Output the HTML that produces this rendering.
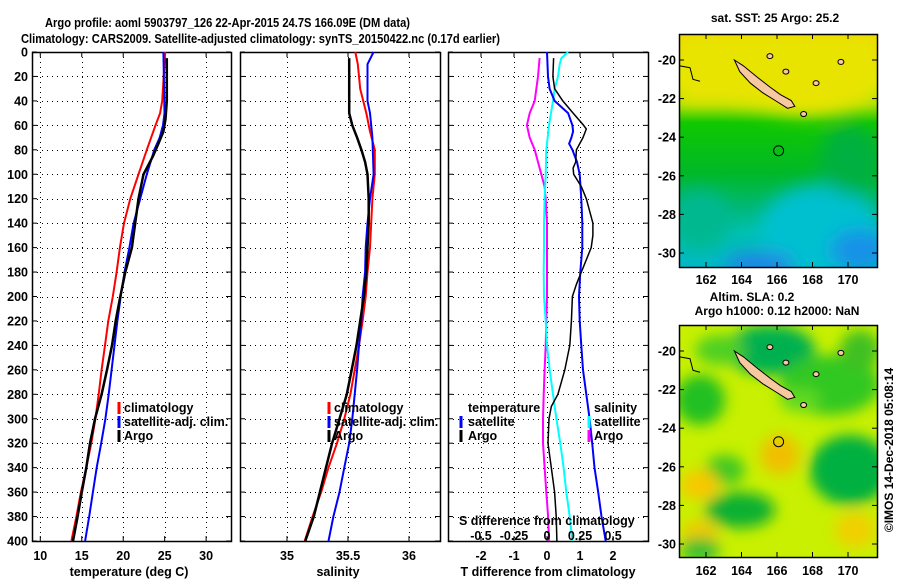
<!DOCTYPE html>
<html><head><meta charset="utf-8">
<style>
html,body{margin:0;padding:0;background:#fff;}
svg text{font-family:"Liberation Sans",sans-serif;font-weight:bold;fill:#000;}
</style></head>
<body>
<svg id="chart" width="900" height="580" viewBox="0 0 900 580" xmlns="http://www.w3.org/2000/svg">
<defs>
<filter id="blur1" x="-20%" y="-20%" width="140%" height="140%"><feGaussianBlur stdDeviation="9"/></filter>
<filter id="blur2" x="-20%" y="-20%" width="140%" height="140%"><feGaussianBlur stdDeviation="7"/></filter>
<clipPath id="clipM1"><rect x="679" y="34" width="198" height="233"/></clipPath>
<clipPath id="clipM2"><rect x="679" y="325" width="198" height="232"/></clipPath>
<linearGradient id="sstGrad" x1="0" y1="0" x2="0" y2="1">
<stop offset="0" stop-color="#f2d400"/><stop offset="0.2" stop-color="#e0ec00"/><stop offset="0.3" stop-color="#a8e000"/><stop offset="0.38" stop-color="#10c800"/><stop offset="0.6" stop-color="#00b828"/><stop offset="0.75" stop-color="#00b878"/><stop offset="0.85" stop-color="#00c0b0"/><stop offset="1" stop-color="#00b8c8"/>
</linearGradient>
</defs>
<text x="45" y="27" font-size="13" textLength="365" lengthAdjust="spacingAndGlyphs">Argo profile: aoml 5903797_126 22-Apr-2015 24.7S 166.09E (DM data)</text>
<text x="21" y="43" font-size="13" textLength="479" lengthAdjust="spacingAndGlyphs">Climatology: CARS2009. Satellite-adjusted climatology: synTS_20150422.nc (0.17d earlier)</text>
<g id="panels"></g>
<g id="maps"></g>
</svg>
<script>
// ---- data ----
const depths = [0,20,40,60,80,100,120,140,160,180,200,220,240,260,280,300,320,340,360,380,400];
const tempClimDepth = [0,40,50,60,80,100,120,140,160,180,200,220,240,260,280,300,320,340,360,380,400];
const tempClim = [25.06,24.7,24.45,23.9,22.85,21.85,20.85,20.1,19.6,19.2,18.75,18.2,17.8,17.4,17.05,16.65,16.15,15.55,14.9,14.35,13.75];
const tempSatDepth = [0,50,60,70,80,100,120,140,160,180,200,220,240,260,280,300,320,340,360,380,400];
const tempSat = [24.85,24.98,24.8,24.4,23.75,22.85,22.05,21.25,20.75,20.15,19.7,19.3,18.95,18.6,18.25,17.85,17.35,16.8,16.35,15.9,15.4];
const tempArgoDepth = [5,40,55,65,75,85,100,120,140,160,180,200,220,240,260,280,300,320,340,360,380,400];
const tempArgo = [25.26,25.26,25.1,24.85,24.25,23.6,22.45,21.85,21.45,21.05,20.25,19.65,19.1,18.65,18.05,17.4,16.6,16.0,15.55,15.0,14.5,13.95];
const salClimDepth = [0,10,30,50,65,80,100,120,140,160,180,200,220,240,260,280,300,320,340,360,380,400];
const salClim = [35.56,35.58,35.6,35.65,35.68,35.72,35.72,35.70,35.69,35.68,35.66,35.645,35.62,35.59,35.555,35.52,35.47,35.41,35.34,35.28,35.21,35.145];
const salSatDepth = [0,10,40,50,70,100,120,140,160,180,200,220,240,260,280,300,320,340,360,380,400];
const salSat = [35.71,35.66,35.66,35.68,35.70,35.71,35.68,35.66,35.645,35.64,35.62,35.61,35.59,35.575,35.555,35.535,35.51,35.47,35.43,35.38,35.34];
const salArgoDepth = [5,50,60,70,80,90,100,120,140,160,180,200,220,240,260,280,300,320,340,360,380,400];
const salArgo = [35.51,35.51,35.535,35.575,35.61,35.64,35.66,35.67,35.67,35.66,35.65,35.63,35.60,35.57,35.53,35.49,35.43,35.37,35.32,35.27,35.22,35.15];
const dTSatDepth = [0,20,30,40,50,60,65,70,75,80,90,100,120,140,160,180,200,220,240,260,280,300,320,340,360,380,400];
const dTSat = [0,0.03,0.08,0.23,0.64,0.77,0.79,0.74,0.67,0.77,0.91,0.99,1.04,1.07,1.07,1.01,0.97,0.99,1.04,1.09,1.19,1.29,1.37,1.44,1.55,1.65,1.78];
const dTArgoDepth = [5,20,30,40,50,60,63,70,80,90,95,100,110,120,130,140,150,160,170,180,190,200,220,240,260,280,290,300,320,340,360,380,400];
const dTArgo = [0.2,0.18,0.23,0.48,0.79,1.11,1.19,1.09,0.89,0.87,0.79,0.81,1.04,1.19,1.29,1.39,1.39,1.34,1.19,1.04,0.89,0.77,0.74,0.69,0.54,0.33,0.13,0.06,0.03,0.13,0.23,0.28,0.3];
const dSSatDepth = [0,5,10,20,30,40,60,80,100,120,140,160,180,200,220,240,260,280,300,320,340,360,380,400];
const dSSat = [0.159,0.109,0.096,0.083,0.058,0.045,0.015,-0.005,-0.01,-0.018,-0.023,-0.023,-0.025,-0.023,-0.01,0,0.02,0.045,0.071,0.101,0.126,0.146,0.172,0.192];
const dSArgoDepth = [5,20,40,50,60,70,80,90,100,110,120,140,160,180,200,220,240,260,280,300,320,340,360,380,400];
const dSArgo = [-0.056,-0.068,-0.093,-0.131,-0.152,-0.131,-0.093,-0.068,-0.043,-0.018,-0.01,0,0,0,0,-0.005,-0.01,-0.018,-0.025,-0.03,-0.03,-0.018,-0.005,0.008,0.015];
const tempTicks = [10,15,20,25,30];
const salTicks = [35,35.5,36];
const salTickLabels = ["35","35.5","36"];
const dTTicks = [-2,-1,0,1,2];
const dSTicks = [-0.5,-0.25,0,0.25,0.5];
const dSTickLabels = ["-0.5","-0.25","0","0.25","0.5"];
const lonTicks = [162,164,166,168,170];
const latTicks = [-20,-22,-24,-26,-28,-30];

// ---- helpers ----
const NS = "http://www.w3.org/2000/svg";
function mk(tag, attrs, parent, txt){
  const e = document.createElementNS(NS, tag);
  for (const k in attrs) e.setAttribute(k, attrs[k]);
  if (txt !== undefined) e.textContent = txt;
  parent.appendChild(e);
  return e;
}
const TOP = 52, BOT = 541;
const yD = d => TOP + d * (BOT - TOP) / 400;
function lin(d0, d1, r0, r1){ return v => r0 + (v - d0) * (r1 - r0) / (d1 - d0); }

const panelsG = document.getElementById('panels');
const panels = [
  {name:'temperature-panel', x0:32, x1:231, sx: lin(9,33,32,231), ticks:tempTicks, labels:tempTicks.map(String), xlabel:'temperature (deg C)', xlx:129},
  {name:'salinity-panel', x0:240, x1:440, sx: lin(34.6148,36.2541,240,440), ticks:salTicks, labels:salTickLabels, xlabel:'salinity', xlx:338},
  {name:'difference-panel', x0:448, x1:648, sx: lin(-3,3.0606,448,648), ticks:dTTicks, labels:dTTicks.map(String), xlabel:'T difference from climatology', xlx:548}
];
panels.forEach((p, pi) => {
  const g = mk('g', {}, panelsG);
  
  
  const grid = mk('g', {stroke:'#000','stroke-width':1,'stroke-dasharray':'1,4'}, g);
  
  
  p.ticks.forEach(t => { const x = Math.round(p.sx(t)) + 0.5; mk('line', {x1:x, x2:x, y1:TOP, y2:BOT}, grid); });
  depths.forEach(d => { if (d > 0 && d < 400) { const y = Math.round(yD(d)) + 0.5; mk('line', {x1:p.x0, x2:p.x1, y1:y, y2:y}, grid); } });
  const frame = mk('rect', {x:p.x0+0.5, y:TOP+0.5, width:p.x1-p.x0, height:BOT-TOP, fill:'none', stroke:'#000', 'stroke-width':1.5}, g);
  
  
  p.ticks.forEach(t => { const x = p.sx(t); mk('line', {x1:x, x2:x, y1:BOT, y2:BOT-5, stroke:'#000'}, g); mk('line', {x1:x, x2:x, y1:TOP, y2:TOP+5, stroke:'#000'}, g); });
  depths.forEach(d => { const y = yD(d); mk('line', {x1:p.x0, x2:p.x0+5, y1:y, y2:y, stroke:'#000'}, g); mk('line', {x1:p.x1, x2:p.x1-5, y1:y, y2:y, stroke:'#000'}, g); });
  p.ticks.forEach((t, i) => {
    const tl = mk('text', {x:p.sx(t), y:560, 'font-size':12.5, 'text-anchor':'middle'}, g, p.labels[i]);
    
    
  });
  const xl = mk('text', {x:p.xlx, y:576, 'font-size':12.5, 'text-anchor':'middle'}, g, p.xlabel);
  
  
  if (pi === 0) {
    depths.forEach(d => {
      const tl = mk('text', {x:28, y:yD(d)+4.5, 'font-size':12.5, 'text-anchor':'end'}, g, String(d));
      
      
    });
  }
});

function series(p, xs, ds, color, w, sx, name){
  const pts = xs.map((v, i) => sx(v).toFixed(1) + ',' + yD(ds[i]).toFixed(1)).join(' ');
  const l = mk('polyline', {points:pts, fill:'none', stroke:color, 'stroke-width':w, 'stroke-linejoin':'round'}, panelsG);
  
  
}
const sxT = panels[0].sx, sxS = panels[1].sx, sxD = panels[2].sx;
const sxDS = lin(-0.75, 0.765, 448, 648);
series(0, tempClim, tempClimDepth, '#ff0000', 2, sxT, 'temp-climatology-line');
series(0, tempSat, tempSatDepth, '#0000ff', 2, sxT, 'temp-satellite-line');
series(0, tempArgo, tempArgoDepth, '#000000', 2.5, sxT, 'temp-argo-line');
series(1, salClim, salClimDepth, '#ff0000', 2, sxS, 'sal-climatology-line');
series(1, salSat, salSatDepth, '#0000ff', 2, sxS, 'sal-satellite-line');
series(1, salArgo, salArgoDepth, '#000000', 2.5, sxS, 'sal-argo-line');
series(2, dSArgo, dSArgoDepth, '#ff00ff', 2, sxDS, 'sdiff-argo-line');
series(2, dSSat, dSSatDepth, '#00ffff', 2, sxDS, 'sdiff-satellite-line');
series(2, dTSat, dTSatDepth, '#0000ff', 2, sxD, 'tdiff-satellite-line');
series(2, dTArgo, dTArgoDepth, '#000000', 1.5, sxD, 'tdiff-argo-line');

const sl = mk('text', {x:459, y:525, 'font-size':12.5}, panelsG, 'S difference from climatology');


dSTicks.forEach((t, i) => {
  const tl = mk('text', {x:sxDS(t), y:540, 'font-size':12.5, 'text-anchor':'middle'}, panelsG, dSTickLabels[i]);
  
  
});

function legend(x, y, color, label, mx){
  const g = mk('g', {}, panelsG);
  
  
  if (color) mk('line', {x1:mx, x2:mx, y1:y-10, y2:y+2, stroke:color, 'stroke-width':3}, g);
  mk('text', {x:x, y:y, 'font-size':12.5}, g, label);
}
legend(124, 412, '#ff0000', 'climatology', 119);
legend(124, 426, '#0000ff', 'satellite-adj. clim.', 119);
legend(124, 440, '#000000', 'Argo', 119);
legend(334, 412, '#ff0000', 'climatology', 329);
legend(334, 426, '#0000ff', 'satellite-adj. clim.', 329);
legend(334, 440, '#000000', 'Argo', 329);
legend(468, 412, null, 'temperature', 0);
legend(468, 426, '#0000ff', 'satellite', 461);
legend(468, 440, '#000000', 'Argo', 461);
legend(594, 412, null, 'salinity', 0);
legend(594, 426, '#00ffff', 'satellite', 589);
legend(594, 440, '#ff00ff', 'Argo', 589);

// ---- maps ----
const mapsG = document.getElementById('maps');
const lonX = lin(162, 170, 706, 848);
const maps = [
  {name:'sst-map', y0:34, y1:267, latY: lin(-20,-30,60,253), clip:'clipM1', titles:[['sat. SST: 25 Argo: 25.2',775,22]], xly:284},
  {name:'sla-map', y0:325, y1:557, latY: lin(-20,-30,351,544), clip:'clipM2', titles:[['Altim. SLA: 0.2',752,301],['Argo h1000: 0.12 h2000: NaN',777,315]], xly:575}
];
const island = [[163.6,-20.0],[164.1,-20.3],[164.9,-20.9],[165.6,-21.4],[166.2,-21.8],[166.8,-22.1],[167.0,-22.4],[166.6,-22.5],[165.9,-22.1],[165.2,-21.7],[164.5,-21.2],[163.9,-20.6]];
maps.forEach((m, mi) => {
  const g = mk('g', {}, mapsG);
  
  
  const cg = mk('g', {'clip-path':'url(#'+m.clip+')'}, g);
  if (mi === 0) {
    mk('rect', {x:679, y:34, width:198, height:233, fill:'url(#sstGrad)'}, cg);
    const b = mk('g', {filter:'url(#blur1)'}, cg);
    mk('path', {d:'M679,34 H877 V95 Q820,125 770,110 Q720,100 679,105 Z', fill:'#e8e400'}, b);
    mk('ellipse', {cx:820, cy:230, rx:60, ry:45, fill:'#00c0d0'}, b);
    mk('ellipse', {cx:860, cy:250, rx:30, ry:20, fill:'#1890e8'}, b);
    mk('ellipse', {cx:760, cy:265, rx:35, ry:12, fill:'#2080e8'}, b);
    mk('ellipse', {cx:700, cy:220, rx:30, ry:30, fill:'#00b890'}, b);
    mk('ellipse', {cx:850, cy:160, rx:30, ry:35, fill:'#00b040'}, b);
  } else {
    mk('rect', {x:679, y:325, width:198, height:232, fill:'#c8f000'}, cg);
    const b = mk('g', {filter:'url(#blur2)'}, cg);
    [[770,350,45,25,'#00b050'],[700,400,25,25,'#20c020'],[830,385,50,30,'#30c820'],[850,470,40,35,'#00b040'],[725,470,20,15,'#40c820'],[740,510,35,18,'#10b030'],[800,400,20,12,'#60d820'],[780,455,20,20,'#f0c000'],[700,485,20,15,'#f8c800'],[700,535,18,15,'#f0c800'],[855,530,20,18,'#f0d000'],[720,350,25,15,'#50d020'],[860,350,20,20,'#40c020'],[700,550,20,12,'#30c030']].forEach(e => {
      mk('ellipse', {cx:e[0], cy:e[1], rx:e[2], ry:e[3], fill:e[4]}, b);
    });
  }
  const pts = island.map(p => lonX(p[0]).toFixed(1)+','+m.latY(p[1]).toFixed(1)).join(' ');
  const isl = mk('polygon', {points:pts, fill:'#f8c8a0', stroke:'#000', 'stroke-width':1}, cg);
  
  
  mk('path', {d:'M679,'+m.latY(-20.3)+' L690,'+m.latY(-20.4)+' L693,'+m.latY(-21.0)+' L700,'+m.latY(-21.1), fill:'none', stroke:'#000'}, cg);
  [[168.2,-21.2],[166.5,-20.6],[165.6,-19.8],[167.5,-22.8],[169.6,-20.1]].forEach(p => {
    mk('ellipse', {cx:lonX(p[0]), cy:m.latY(p[1]), rx:3, ry:2.5, fill:'#f8c8a0', stroke:'#000'}, cg);
  });
  const c = mk('circle', {cx:lonX(166.09), cy:m.latY(-24.7), r:5, fill:'none', stroke:'#000', 'stroke-width':1}, g);
  
  
  mk('rect', {x:679.5, y:m.y0+0.5, width:198, height:m.y1-m.y0, fill:'none', stroke:'#000', 'stroke-width':1.5}, g);
  lonTicks.forEach(l => {
    const x = lonX(l);
    mk('line', {x1:x, x2:x, y1:m.y0, y2:m.y0+5, stroke:'#000'}, g);
    mk('line', {x1:x, x2:x, y1:m.y1, y2:m.y1-5, stroke:'#000'}, g);
    const tl = mk('text', {x:x, y:m.xly, 'font-size':12.5, 'text-anchor':'middle'}, g, String(l));
    
    
  });
  latTicks.forEach(l => {
    const y = m.latY(l);
    mk('line', {x1:679, x2:684, y1:y, y2:y, stroke:'#000'}, g);
    mk('line', {x1:877, x2:872, y1:y, y2:y, stroke:'#000'}, g);
    const tl = mk('text', {x:676, y:y+4.5, 'font-size':12.5, 'text-anchor':'end'}, g, String(l));
    
    
  });
  m.titles.forEach(t => {
    const tt = mk('text', {x:t[1], y:t[2], 'font-size':12, 'text-anchor':'middle'}, g, t[0]);
    
    
  });
});
const cr = mk('text', {x:0, y:0, 'font-size':12, 'font-weight':'normal', 'text-anchor':'middle', transform:'translate(893,450) rotate(-90)'}, mapsG, '©IMOS 14-Dec-2018 05:08:14');


</script>
</body></html>
